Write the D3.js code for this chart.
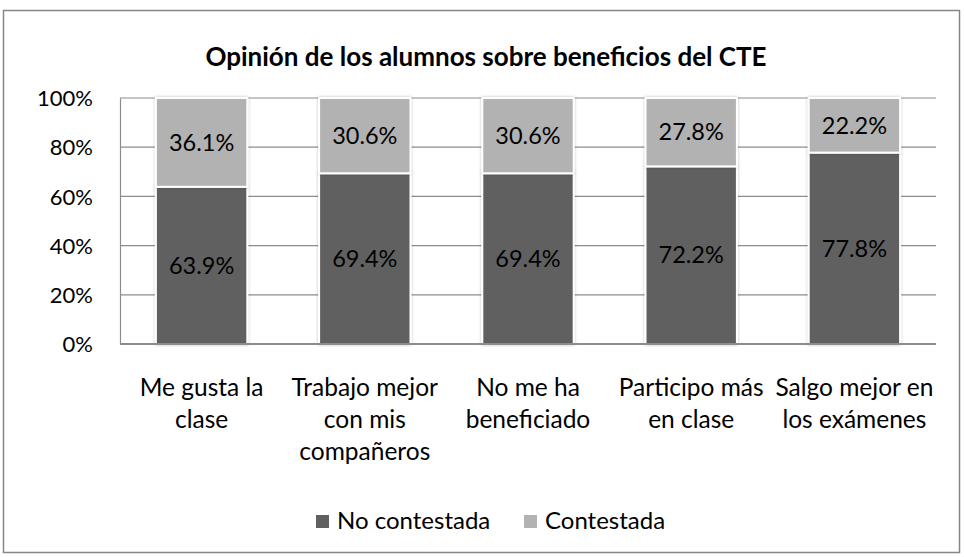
<!DOCTYPE html>
<html>
<head>
<meta charset="utf-8">
<script src="https://cdn.jsdelivr.net/npm/d3@7"></script>
<style>
  body { margin: 0; background: #fff; }
  text { font-family: Lato, "Open Sans", sans-serif; fill: #000; }
</style>
</head>
<body>
<div class="chart"></div>
<script>
const categories = [
  ["Me gusta la", "clase"],
  ["Trabajo mejor", "con mis", "compañeros"],
  ["No me ha", "beneficiado"],
  ["Participo más", "en clase"],
  ["Salgo mejor en", "los exámenes"]
];
const noContestada = [63.9, 69.4, 69.4, 72.2, 77.8];
const contestada = [36.1, 30.6, 30.6, 27.8, 22.2];
const yTicks = [0, 20, 40, 60, 80, 100];
const seriesNames = ["No contestada", "Contestada"];
const colors = ["#606060", "#b2b2b2"];

const width = 964, height = 557;
const plotLeft = 120, plotRight = 936, plotTop = 98, plotBottom = 344;

const svg = d3.select(".chart").append("svg")
  .attr("width", width).attr("height", height);

const defs = svg.append("defs");
const shadow = defs.append("filter").attr("id", "shadow")
  .attr("x", "-10%").attr("y", "-10%").attr("width", "120%").attr("height", "120%");
shadow.append("feDropShadow")
  .attr("dx", 0).attr("dy", 0).attr("stdDeviation", 1.5)
  .attr("flood-color", "#000").attr("flood-opacity", 0.25);

svg.append("rect")
  .attr("x", 3.5).attr("y", 10.5)
  .attr("width", 956).attr("height", 542)
  .attr("fill", "#fff").attr("stroke", "#868686").attr("stroke-width", 1.5);

svg.append("text")
  .attr("x", 486).attr("y", 66)
  .attr("text-anchor", "middle")
  .attr("font-weight", "bold")
  .attr("font-size", 26)
  .text("Opinión de los alumnos sobre beneficios del CTE");

const x = d3.scaleBand()
  .domain(d3.range(categories.length))
  .range([plotLeft, plotRight])
  .paddingInner(0.44).paddingOuter(0.22);

const y = d3.scaleLinear().domain([0, 100]).range([plotBottom, plotTop]);

// gridlines
svg.append("g").selectAll("line")
  .data(yTicks.filter(d => d > 0))
  .join("line")
  .attr("x1", plotLeft).attr("x2", plotRight)
  .attr("y1", d => y(d)).attr("y2", d => y(d))
  .attr("stroke", "#8c8c8c").attr("stroke-width", 1.2);

const yAxis = d3.axisLeft(y).tickValues(yTicks).tickFormat(d => d + "%").tickSize(0).tickPadding(27);
const gy = svg.append("g").attr("transform", `translate(${plotLeft},0)`).call(yAxis);
gy.select(".domain").attr("stroke", "#8c8c8c").attr("stroke-width", 1.2);
gy.selectAll("text").attr("font-size", 22).attr("font-family", "Lato, sans-serif").attr("dy", "0.35em");

const stacked = categories.map((c, i) => [
  { s: 0, i, y0: 0, y1: noContestada[i], v: noContestada[i] },
  { s: 1, i, y0: noContestada[i], y1: noContestada[i] + contestada[i], v: contestada[i] }
]).flat();

const bars = svg.append("g");
bars.selectAll("rect")
  .data(stacked)
  .join("rect")
  .attr("x", d => x(d.i))
  .attr("y", d => y(d.y1))
  .attr("width", x.bandwidth())
  .attr("height", d => y(d.y0) - y(d.y1))
  .attr("fill", d => colors[d.s])
  .attr("stroke", "#fff").attr("stroke-width", 2)
  .attr("filter", "url(#shadow)");

bars.selectAll("text")
  .data(stacked)
  .join("text")
  .attr("x", d => x(d.i) + x.bandwidth() / 2)
  .attr("y", d => y((d.y0 + d.y1) / 2))
  .attr("dy", "0.35em")
  .attr("text-anchor", "middle")
  .attr("font-size", 23.5)
  .text(d => d.v.toFixed(1) + "%");

// x axis line
svg.append("line")
  .attr("x1", plotLeft).attr("x2", plotRight)
  .attr("y1", plotBottom).attr("y2", plotBottom)
  .attr("stroke", "#8c8c8c").attr("stroke-width", 2);

// category labels
const cat = svg.append("g");
categories.forEach((lines, i) => {
  const t = cat.append("text")
    .attr("x", x(i) + x.bandwidth() / 2)
    .attr("y", 396)
    .attr("text-anchor", "middle")
    .attr("font-size", 24.5);
  lines.forEach((l, j) => {
    t.append("tspan").attr("x", x(i) + x.bandwidth() / 2).attr("dy", j ? 32 : 0).text(l);
  });
});

// legend
const legendX = [316, 524];
const legend = svg.append("g");
seriesNames.forEach((n, i) => {
  legend.append("rect")
    .attr("x", legendX[i]).attr("y", 515)
    .attr("width", 13).attr("height", 13)
    .attr("fill", colors[i]);
  legend.append("text")
    .attr("x", legendX[i] + 21).attr("y", 521)
    .attr("dy", "0.35em")
    .attr("font-size", 24)
    .text(n);
});
</script>
</body>
</html>
